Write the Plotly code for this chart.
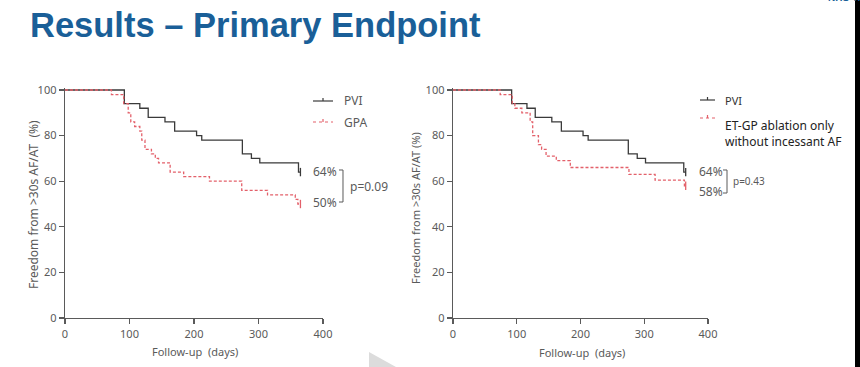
import plotly.graph_objects as go

W, H = 860, 367

# ---------------- data ----------------
pvi_t = [0, 92, 116, 129, 155, 170, 204, 212, 275, 289, 302, 362, 365]
pvi_s = [100, 94, 92, 88, 86, 82, 80, 78, 72, 70, 68, 64, 64]

gpa_t = [0, 72, 91, 98, 102, 108, 116, 119, 124, 134, 140, 145, 163, 184, 224, 274, 314, 357, 361, 365]
gpa_s = [100, 98, 94, 90, 86, 84, 82, 78, 74, 72, 70, 68, 64, 62, 60, 56, 54, 52, 50, 50]

etgp_t = [0, 74, 93, 97, 108, 121, 125, 134, 139, 146, 162, 184, 276, 317, 363, 365]
etgp_s = [100, 98, 94, 92, 90, 86, 80, 76, 74, 71, 69, 66, 63, 60.5, 58, 58]

y_ticks = [0, 20, 40, 60, 80, 100]
x_ticks = [0, 100, 200, 300, 400]

left_labels = ["64%", "50%"]
left_p = "p=0.09"
right_labels = ["64%", "58%"]
right_p = "p=0.43"

BLACK = "#3a3a3a"
RED = "#e3606a"
GREY = "#5a5a5a"
FONT = "Noto Sans"


def px(x):
    return x / W


def py(y):
    return 1 - y / H


fig = go.Figure()

def km(t, s, color, dash, xa, ya, name):
    fig.add_trace(go.Scatter(x=t, y=s, mode="lines", line=dict(color=color, width=1.3, dash=dash, shape="hv"),
                             xaxis=xa, yaxis=ya, name=name, showlegend=False, hoverinfo="skip"))
    fig.add_trace(go.Scatter(x=[t[-1]], y=[s[-1]], mode="markers",
                             marker=dict(symbol="line-ns-open", size=6, color=color, line=dict(color=color, width=1.3)),
                             xaxis=xa, yaxis=ya, showlegend=False, hoverinfo="skip", cliponaxis=False))

km(pvi_t, pvi_s, BLACK, "solid", "x", "y", "PVI")
km(gpa_t, gpa_s, RED, "3px,2px", "x", "y", "GPA")
km(pvi_t, pvi_s, BLACK, "solid", "x2", "y2", "PVI")
km(etgp_t, etgp_s, RED, "3px,2px", "x2", "y2", "ET-GP ablation only without incessant AF")

ydom = [py(318), py(318 - 101 * 2.28)]

axis_common = dict(showline=True, linecolor=GREY, linewidth=1.3, ticks="outside", ticklen=5,
                   tickcolor=GREY, tickwidth=1.3, tickfont=dict(family=FONT, size=11, color=GREY),
                   showgrid=False, zeroline=False, fixedrange=True, automargin=False)

fig.update_layout(
    width=W, height=H, autosize=False, margin=dict(l=0, r=0, t=0, b=0, pad=0, autoexpand=False),
    paper_bgcolor="white", plot_bgcolor="rgba(0,0,0,0)",
    showlegend=False, hovermode=False,
    xaxis=dict(domain=[px(65), px(323)], range=[0, 400], tickvals=x_ticks, anchor="y", **axis_common),
    yaxis=dict(domain=ydom, range=[0, 101], tickvals=y_ticks, anchor="x", **axis_common),
    xaxis2=dict(domain=[px(453), px(708)], range=[0, 400], tickvals=x_ticks, anchor="y2", **axis_common),
    yaxis2=dict(domain=ydom, range=[0, 101], tickvals=y_ticks, anchor="x2", **axis_common),
)

ann = []
shapes = []

def text(x, y, s, size=12, color=GREY, xanchor="left", angle=0, family=FONT, bold=False):
    ann.append(dict(x=px(x), y=py(y), xref="paper", yref="paper", text=("<b>%s</b>" % s) if bold else s,
                    showarrow=False, xanchor=xanchor, yanchor="middle", textangle=angle,
                    font=dict(family=family, size=size, color=color)))

# title
text(28, 25, "Results – Primary Endpoint", size=34.5, color="#1a5f98", family="Liberation Sans, Arial", bold=True)
ann.append(dict(x=px(826), y=py(5), xref="paper", yref="paper", text="<b>NHS Trust</b>", showarrow=False,
                xanchor="left", yanchor="bottom", font=dict(family="Liberation Sans", size=10, color="#1a5f98")))

# axis titles
text(33, 205, "Freedom from >30s AF/AT  (%)", size=12, xanchor="center", angle=-90)
text(415, 208, "Freedom from >30s AF/AT (%)", size=11, xanchor="center", angle=-90)
text(195, 351, "Follow-up  (days)", size=11, xanchor="center")
text(582, 352, "Follow-up  (days)", size=11, xanchor="center")

# legends
def legend_item(x0, x1, y, color, dash):
    shapes.append(dict(type="line", xref="paper", yref="paper", x0=px(x0), x1=px(x1), y0=py(y), y1=py(y),
                       line=dict(color=color, width=1.2, dash=dash)))
    xm = (x0 + x1) / 2
    shapes.append(dict(type="line", xref="paper", yref="paper", x0=px(xm), x1=px(xm), y0=py(y - 3), y1=py(y),
                       line=dict(color=color, width=1.2)))

legend_item(313, 333, 101, BLACK, "solid")
legend_item(313, 333, 122, RED, "dot")
text(342, 101, "PVI", size=12, color=GREY)
text(342, 122, "GPA", size=12, color=GREY)

legend_item(700, 715, 100, BLACK, "solid")
legend_item(700, 715, 118, RED, "dot")
text(723, 100, "PVI", size=11, color="#333")
text(723, 125, "ET-GP ablation only", size=12, color="#222")
text(723, 142, "without incessant AF", size=12, color="#222")

# end labels and brackets
text(311, 171, left_labels[0], size=12, color=GREY)
text(311, 202, left_labels[1], size=12, color=GREY)
shapes.append(dict(type="path", xref="paper", yref="paper",
                   path="M %f %f L %f %f L %f %f L %f %f" % (px(339), py(170), px(343), py(170), px(343), py(202), px(339), py(202)),
                   line=dict(color=GREY, width=1)))
text(348, 186, left_p, size=12, color=GREY)

text(697, 171, right_labels[0], size=12, color=GREY)
text(697, 192, right_labels[1], size=12, color=GREY)
shapes.append(dict(type="path", xref="paper", yref="paper",
                   path="M %f %f L %f %f L %f %f L %f %f" % (px(723), py(170), px(727), py(170), px(727), py(193), px(723), py(193)),
                   line=dict(color=GREY, width=1)))
text(731, 181, right_p, size=10, color=GREY)

# decorations: triangle and right edge strip
shapes.append(dict(type="path", xref="paper", yref="paper",
                   path="M %f %f L %f %f L %f %f Z" % (px(369), py(352), px(396), py(367), px(369), py(367)),
                   fillcolor="#dcdcdc", line=dict(width=0)))
shapes.append(dict(type="rect", xref="paper", yref="paper", x0=px(855), x1=1, y0=0, y1=1,
                   fillcolor="black", line=dict(width=0), layer="above"))

fig.update_layout(annotations=ann, shapes=shapes)
fig.write_html("out.html", config={"displayModeBar": False, "staticPlot": True},
               post_script="document.body.style.margin='0';document.body.style.overflow='hidden';")
